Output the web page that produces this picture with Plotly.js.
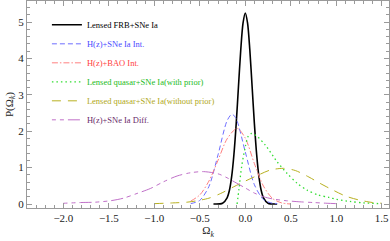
<!DOCTYPE html>
<html><head><meta charset="utf-8">
<script src="https://cdn.plot.ly/plotly-3.0.1.min.js"></script>
<style>html,body{margin:0;padding:0;background:#fff}#c{width:390px;height:241px}</style>
</head><body><div id="c"></div>
<script>
// Series names
const names = ["Lensed FRB+SNe Ia","H(z)+SNe Ia Int.","H(z)+BAO Int.","Lensed quasar+SNe Ia(with prior)","Lensed quasar+SNe Ia(without prior)","H(z)+SNe Ia Diff."];

// Lensed FRB+SNe Ia
const frbX = [-0.35,-0.25,-0.2,-0.175,-0.15,-0.125,-0.1,-0.075,-0.05,-0.025,0,0.025,0.05,0.075,0.1,0.125,0.15,0.175,0.2,0.25,0.35];
const frbY = [0.0,0.02,0.17,0.37,0.75,1.36,2.21,3.23,4.23,4.97,5.25,4.97,4.23,3.23,2.21,1.36,0.75,0.37,0.17,0.02,0.0];

// H(z)+SNe Ia Int.
const hzSnX = [-0.6,-0.5,-0.4,-0.3,-0.2,-0.146,-0.1,0.0,0.1,0.2,0.3,0.35];
const hzSnY = [0.01,0.10,0.48,1.35,2.29,2.47,2.34,1.43,0.53,0.12,0.02,0.01];

// H(z)+BAO Int.
const hzBaoX = [-0.6,-0.5,-0.4,-0.3,-0.2,-0.09,0.0,0.1,0.2,0.3,0.4,0.5];
const hzBaoY = [0.08,0.25,0.63,1.2,1.79,2.08,1.81,1.11,0.49,0.15,0.03,0.0];

// Lensed quasar+SNe Ia (with prior)
const lqPX = [-0.09,-0.07,-0.04,0.0,0.03,0.07,0.12,0.22,0.31,0.35,0.46,0.57,0.68,0.8,0.92,1.0,1.15,1.3,1.5];
const lqPY = [0.0,0.4,1.03,1.57,1.85,1.94,1.88,1.62,1.3,1.16,0.84,0.57,0.38,0.25,0.18,0.13,0.07,0.03,0.01];

// Lensed quasar+SNe Ia (without prior)
const lqNX = [-1.0,-0.8,-0.64,-0.53,-0.4,-0.27,-0.13,0.0,0.13,0.27,0.42,0.55,0.7,0.82,0.95,1.1,1.25,1.4,1.5];
const lqNY = [0.01,0.03,0.05,0.09,0.16,0.29,0.47,0.63,0.78,0.93,0.98,0.92,0.74,0.57,0.4,0.22,0.11,0.04,0.02];

// H(z)+SNe Ia Diff.
const hzDX = [-2.0,-1.81,-1.65,-1.48,-1.34,-1.19,-1.04,-0.9,-0.75,-0.6,-0.46,-0.3,-0.2,-0.1,0.0,0.1,0.2,0.3,0.45,0.6,0.75,0.9,1.0];
const hzDY = [0.02,0.04,0.05,0.09,0.16,0.29,0.43,0.61,0.77,0.86,0.89,0.83,0.72,0.58,0.44,0.3,0.2,0.14,0.09,0.06,0.04,0.02,0.01];

const lineCols = ["#000000","#6e6eff","#ff8080","#33dd33","#b8b020","#c070c8"];
const textCols = ["#000000","#4a4aff","#ff4040","#22bb22","#b0a820","#6a2a6a"];
const dashes = ["solid","5px,3px","6px,2px,1.5px,2px","1.5px,3px","9px,7px","4px,4px,4px,4px,12px,4px"];
const widths = [1.6,1,1,1.3,1,1];

const xs = [frbX,hzSnX,hzBaoX,lqPX,lqNX,hzDX];
const ys = [frbY,hzSnY,hzBaoY,lqPY,lqNY,hzDY];

const data = xs.map((x,i)=>({
  x:x, y:ys[i], type:'scatter', mode:'lines',
  line:{color:lineCols[i], dash:dashes[i], width:widths[i], shape:'spline', smoothing:0.8},
  name:'<span style="color:'+textCols[i]+'">'+names[i]+'</span>'
}));

const axisCommon = {
  showgrid:false, zeroline:false, showline:true, linecolor:'#9a9a9a', linewidth:1,
  mirror:'allticks', ticks:'inside', tickcolor:'#9a9a9a', ticklen:5, tickwidth:1,
  tickfont:{family:'Liberation Serif', size:11, color:'#222'}
};

const layout = {
  width:390, height:241,
  margin:{l:27, r:1, t:1, b:33},
  paper_bgcolor:'#fff', plot_bgcolor:'#fff',
  showlegend:true,
  legend:{x:0.055, y:0.955, xanchor:'left', yanchor:'top', bgcolor:'rgba(0,0,0,0)',
          font:{family:'Liberation Serif', size:8.5}, itemwidth:30, tracegroupgap:0},
  xaxis:Object.assign({}, axisCommon, {
    range:[-2.4,1.58], tickmode:'linear', tick0:-2.0, dtick:0.5, tickformat:'.1f',
    minor:{dtick:0.1, tick0:-2.0, ticks:'inside', ticklen:3, tickcolor:'#9a9a9a'},
    title:{text:'Ω<sub><i>k</i></sub>', font:{family:'Liberation Serif', size:11, color:'#222'}, standoff:3}
  }),
  yaxis:Object.assign({}, axisCommon, {
    range:[-0.11,5.58], tickmode:'linear', tick0:0, dtick:1,
    minor:{dtick:0.2, tick0:0, ticks:'inside', ticklen:3, tickcolor:'#9a9a9a'},
    title:{text:'P(Ω<sub><i>k</i></sub>)', font:{family:'Liberation Serif', size:11, color:'#222'}, standoff:2}
  })
};

Plotly.newPlot('c', data, layout, {displayModeBar:false, staticPlot:true});
</script>
</body></html>
